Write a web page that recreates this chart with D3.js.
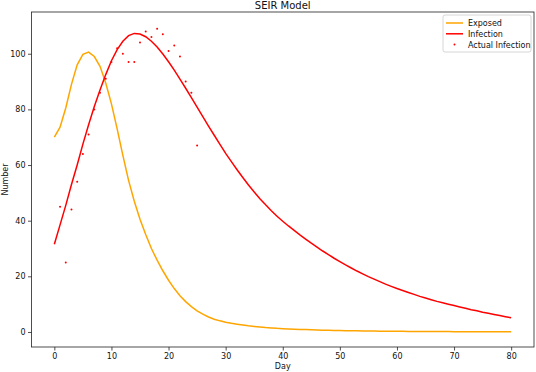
<!DOCTYPE html>
<html>
<head>
<meta charset="utf-8">
<script src="https://cdn.jsdelivr.net/npm/d3@7"></script>
<style>
  body { margin: 0; background: #fff; }
  svg { display: block; font-family: "DejaVu Sans", sans-serif; }
</style>
</head>
<body>
<div id="chart"></div>
<script>
// model output, one value per day (0..80)
var days = d3.range(0, 81);

var exposed = [70, 73.6, 80.5, 89, 96, 99.8, 100.6, 99, 95.5, 89.5,
  82, 73, 63.5, 54.5, 47, 40.5, 35, 30, 25.8, 22,
  18.6, 15.6, 13, 10.9, 9.1, 7.6, 6.4, 5.4, 4.6, 4.0,
  3.5, 3.1, 2.8, 2.5, 2.2, 2.0, 1.8, 1.6, 1.45, 1.3,
  1.2, 1.1, 1.0, 0.92, 0.85, 0.78, 0.72, 0.66, 0.61, 0.56,
  0.52, 0.48, 0.44, 0.41, 0.38, 0.35, 0.32, 0.3, 0.28, 0.26,
  0.24, 0.22, 0.2, 0.19, 0.18, 0.17, 0.16, 0.15, 0.14, 0.13,
  0.12, 0.11, 0.1, 0.1, 0.09, 0.09, 0.08, 0.08, 0.07, 0.07, 0.06];

var infection = [31.5, 38.5, 45.5, 53, 60, 67.5, 74.5, 81, 87, 92.5,
  97.5, 101.5, 104.5, 106.5, 107.3, 107.1, 106.1, 104.5, 102.4, 99.9,
  97.1, 94.1, 90.9, 87.6, 84.2, 80.8, 77.4, 74, 70.7, 67.4,
  64.2, 61.2, 58.3, 55.5, 52.8, 50.3, 47.9, 45.7, 43.6, 41.6,
  39.8, 38.1, 36.5, 34.9, 33.4, 31.9, 30.5, 29.1, 27.8, 26.5,
  25.3, 24.1, 23.0, 21.9, 20.9, 19.9, 19.0, 18.1, 17.2, 16.4,
  15.6, 14.9, 14.2, 13.5, 12.8, 12.2, 11.6, 11.0, 10.5, 10.0,
  9.5, 9.0, 8.5, 8.0, 7.6, 7.1, 6.7, 6.3, 5.9, 5.5, 5.1];

// observed cases
var actualDays = d3.range(1, 26);
var actual = [45, 25, 44, 54, 64, 71, 80, 86, 91, 97,
  102, 100, 97, 97, 104, 108, 106, 109, 107, 101,
  103, 99, 90, 86, 67];

var xTicks = [0, 10, 20, 30, 40, 50, 60, 70, 80];
var yTicks = [0, 20, 40, 60, 80, 100];

var svgWidth = 536;
var svgHeight = 372;
var margin = { top: 12, right: 2, bottom: 25, left: 31.5 };
var width = svgWidth - margin.left - margin.right;
var height = svgHeight - margin.top - margin.bottom;

var svg = d3.select("#chart").append("svg")
  .attr("width", svgWidth)
  .attr("height", svgHeight);

var g = svg.append("g")
  .attr("transform", `translate(${margin.left}, ${margin.top})`);

var x = d3.scaleLinear().domain([-4, 84]).range([0, width]);
var y = d3.scaleLinear().domain([-5.4, 115]).range([height, 0]);

// axes
var xAxis = g.append("g")
  .attr("transform", `translate(0, ${height})`)
  .call(d3.axisBottom(x).tickValues(xTicks).tickSize(3.5).tickPadding(2.5));
var yAxis = g.append("g")
  .call(d3.axisLeft(y).tickValues(yTicks).tickSize(3.5).tickPadding(2.5));

[xAxis, yAxis].forEach(function (a) {
  a.select(".domain").remove();
  a.selectAll("line").attr("stroke", "#222").attr("stroke-width", 0.8);
  a.selectAll("text").attr("font-size", 8).attr("fill", "#111")
    .attr("font-family", "DejaVu Sans, sans-serif");
});

// frame
g.append("rect")
  .attr("width", width).attr("height", height)
  .attr("fill", "none").attr("stroke", "#222").attr("stroke-width", 0.8);

var line = d3.line()
  .x(function (d, i) { return x(days[i]); })
  .y(function (d) { return y(d); });

g.append("path").datum(exposed)
  .attr("d", line).attr("fill", "none")
  .attr("stroke", "orange").attr("stroke-width", 1.5);

g.append("path").datum(infection)
  .attr("d", line).attr("fill", "none")
  .attr("stroke", "red").attr("stroke-width", 1.5);

g.selectAll(".dot").data(actual).enter()
  .append("circle")
  .attr("class", "dot")
  .attr("cx", function (d, i) { return x(actualDays[i]); })
  .attr("cy", function (d) { return y(d); })
  .attr("r", 1)
  .attr("fill", "red");

// title and labels
svg.append("text")
  .attr("x", margin.left + width / 2).attr("y", 9)
  .attr("text-anchor", "middle").attr("font-size", 10).attr("fill", "#111")
  .text("SEIR Model");

svg.append("text")
  .attr("x", margin.left + width / 2).attr("y", 369)
  .attr("text-anchor", "middle").attr("font-size", 8).attr("fill", "#111")
  .text("Day");

svg.append("text")
  .attr("transform", `translate(8, ${margin.top + height / 2}) rotate(-90)`)
  .attr("text-anchor", "middle").attr("font-size", 8).attr("fill", "#111")
  .text("Number");

// legend
var legend = svg.append("g").attr("transform", "translate(443, 15)");
legend.append("rect")
  .attr("width", 88).attr("height", 37).attr("rx", 2)
  .attr("fill", "#fff").attr("stroke", "#ccc").attr("stroke-width", 0.8);

var legendItems = [
  { label: "Exposed", color: "orange", type: "line" },
  { label: "Infection", color: "red", type: "line" },
  { label: "Actual Infection", color: "red", type: "dot" }
];

legendItems.forEach(function (item, i) {
  var yy = 8 + i * 10.8;
  if (item.type === "line") {
    legend.append("line")
      .attr("x1", 3).attr("x2", 20).attr("y1", yy).attr("y2", yy)
      .attr("stroke", item.color).attr("stroke-width", 1.5);
  } else {
    legend.append("circle")
      .attr("cx", 11.5).attr("cy", yy).attr("r", 1).attr("fill", item.color);
  }
  legend.append("text")
    .attr("x", 25).attr("y", yy + 3)
    .attr("font-size", 8).attr("fill", "#111")
    .text(item.label);
});
</script>
</body>
</html>
